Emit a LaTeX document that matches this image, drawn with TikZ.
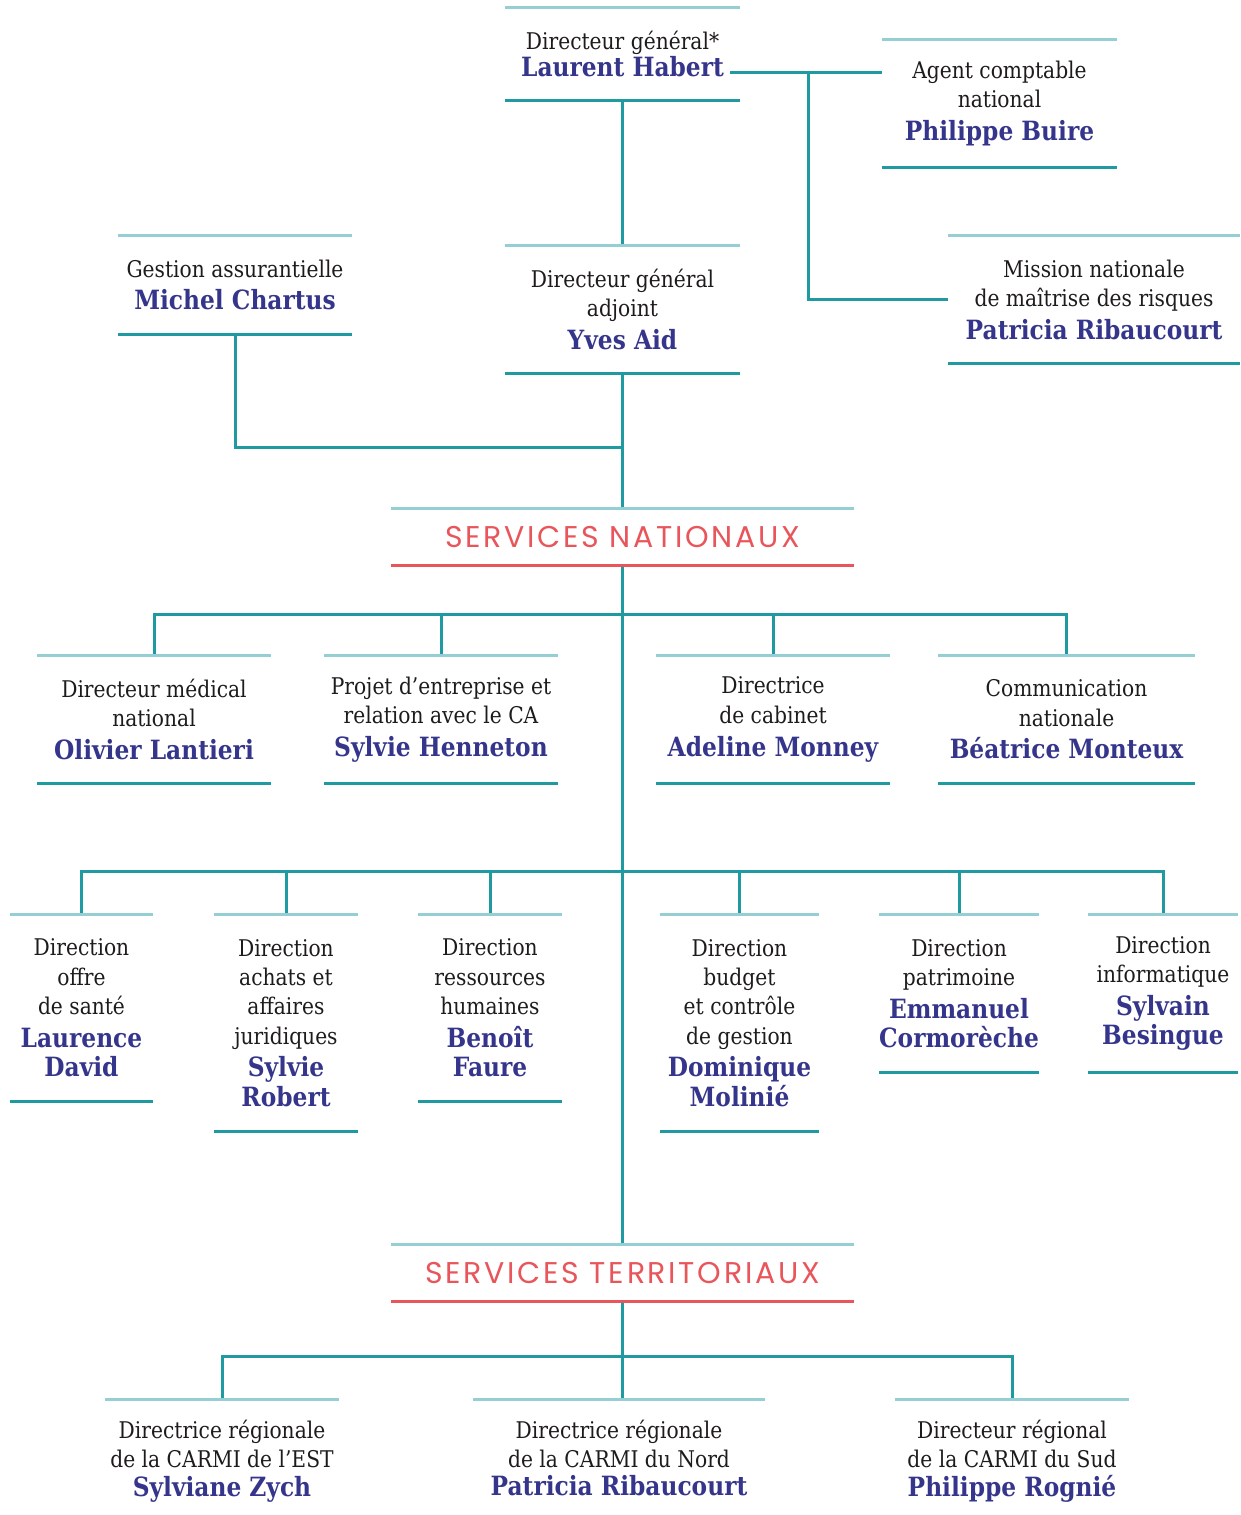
\documentclass[tikz,border=0pt]{standalone}
\usepackage{fontspec}
\usepackage{xcolor}

\newfontfamily\boite{DejaVu Serif}[FakeStretch=0.88]
\newfontfamily\titre{Poppins}[LetterSpace=9]

\definecolor{sarcelle}{HTML}{1E9AA0}
\definecolor{clair}{HTML}{95CED3}
\definecolor{nomcol}{HTML}{35368B}
\definecolor{texte}{HTML}{1E1B1C}
\definecolor{corail}{HTML}{E8565B}

\newcommand{\nom}[1]{{\fontsize{26.5}{29.3}\selectfont\bfseries\color{nomcol}#1}}

\tikzset{
  poste/.style={inner sep=0pt, align=center, text=texte,
    font=\boite\fontsize{23}{29.3}\selectfont},
  service/.style={inner sep=0pt, minimum width=463, minimum height=56,
    text=corail, font=\titre\fontsize{30}{30}\selectfont},
  lien/.style={draw=sarcelle, line width=3pt},
  haut/.style={draw=clair, line width=3pt},
  bas/.style={draw=sarcelle, line width=3pt},
  rouge/.style={draw=corail, line width=3pt}
}

\begin{document}
\begin{tikzpicture}[x=1pt,y=-1pt]
\useasboundingbox (0,0) rectangle (1240,1515);

% direction
\node[poste, minimum width=235, minimum height=92] (dg) at (622.5,54)
  {Directeur général*\\[-2pt]\nom{Laurent Habert}};
\node[poste, minimum width=235, minimum height=127] (ac) at (999.5,103.5)
  {Agent comptable\\national\\[3.5pt]\nom{Philippe Buire}};
\node[poste, minimum width=292, minimum height=127] (mn) at (1094,299.5)
  {Mission nationale\\de maîtrise des risques\\[3.5pt]\nom{Patricia Ribaucourt}};
\node[poste, minimum width=234, minimum height=98] (ga) at (235,285)
  {Gestion assurantielle\\[3.5pt]\nom{Michel Chartus}};
\node[poste, minimum width=235, minimum height=127] (dga) at (622.5,309.5)
  {Directeur général\\adjoint\\[3.5pt]\nom{Yves Aid}};

\node[service] (sn) at (622.5,537) {SERVICES NATIONAUX};

% services nationaux
\node[poste, minimum width=234, minimum height=127] (dm) at (154,719.5)
  {Directeur médical\\national\\[3.5pt]\nom{Olivier Lantieri}};
\node[poste, minimum width=234, minimum height=127] (pe) at (441,719.5)
  {Projet d’entreprise et\\relation avec le CA\\[3.5pt]\nom{Sylvie Henneton}};
\node[poste, minimum width=234, minimum height=127] (dc) at (773,719.5)
  {Directrice\\de cabinet\\[3.5pt]\nom{Adeline Monney}};
\node[poste, minimum width=257, minimum height=127] (cn) at (1066.5,719.5)
  {Communication\\nationale\\[3.5pt]\nom{Béatrice Monteux}};

\node[poste, minimum width=143, minimum height=186] (os) at (81.5,1008)
  {Direction\\offre\\de santé\\[3.5pt]\nom{Laurence}\\\nom{David}};
\node[poste, minimum width=144, minimum height=216] (aj) at (286,1023)
  {Direction\\achats et\\affaires\\juridiques\\[3.5pt]\nom{Sylvie}\\\nom{Robert}};
\node[poste, minimum width=144, minimum height=186] (rh) at (490,1008)
  {Direction\\ressources\\humaines\\[3.5pt]\nom{Benoît}\\\nom{Faure}};
\node[poste, minimum width=159, minimum height=216] (bg) at (739.5,1023)
  {Direction\\budget\\et contrôle\\de gestion\\[3.5pt]\nom{Dominique}\\\nom{Molinié}};
\node[poste, minimum width=158, minimum height=157] (pa) at (959,993.5)
  {Direction\\patrimoine\\[3.5pt]\nom{Emmanuel}\\\nom{Cormorèche}};
\node[poste, minimum width=150, minimum height=157] (si) at (1163,993.5)
  {Direction\\informatique\\[3.5pt]\nom{Sylvain}\\\nom{Besingue}};

\node[service] (st) at (622.5,1273) {SERVICES TERRITORIAUX};

% services territoriaux
\node[poste, minimum width=234, minimum height=122] (est) at (222,1461)
  {Directrice régionale\\de la CARMI de l’EST\\[-1pt]\nom{Sylviane Zych}};
\node[poste, minimum width=292, minimum height=116] (nord) at (619,1458)
  {Directrice régionale\\de la CARMI du Nord\\[-1pt]\nom{Patricia Ribaucourt}};
\node[poste, minimum width=234, minimum height=122] (sud) at (1012,1461)
  {Directeur régional\\de la CARMI du Sud\\[-1pt]\nom{Philippe Rognié}};

% liens
\coordinate (dgd) at (730,72);
\coordinate (emb) at (808,72);
\coordinate (j1) at (622.5,447);
\coordinate (b1) at (622.5,614);
\coordinate (b2) at (622.5,871);
\coordinate (b3) at (622.5,1356);

\draw[lien] (dg.south) -- (dga.north);
\draw[lien] (dgd) -- (dgd -| ac.west);
\draw[lien] (emb) |- (mn.west);
\draw[lien] (dga.south) -- (sn.north);
\draw[lien] (ga.south) |- (j1);
\draw[lien] (sn.south) -- (st.north);
\foreach \n in {dm,pe,dc,cn}
  \draw[lien] (b1) -| (\n.north);
\foreach \n in {os,aj,rh,bg,pa,si}
  \draw[lien] (b2) -| (\n.north);
\draw[lien] (st.south) -- (st.south |- nord.north);
\foreach \n in {est,sud}
  \draw[lien] (b3) -| (\n.north);

% filets
\foreach \n in {dg,ac,mn,ga,dga,dm,pe,dc,cn,os,aj,rh,bg,pa,si} {
  \draw[haut] (\n.north west) -- (\n.north east);
  \draw[bas] (\n.south west) -- (\n.south east);
}
\foreach \n in {est,nord,sud}
  \draw[haut] (\n.north west) -- (\n.north east);
\foreach \n in {sn,st} {
  \draw[haut] (\n.north west) -- (\n.north east);
  \draw[rouge] (\n.south west) -- (\n.south east);
}

\end{tikzpicture}
\end{document}
